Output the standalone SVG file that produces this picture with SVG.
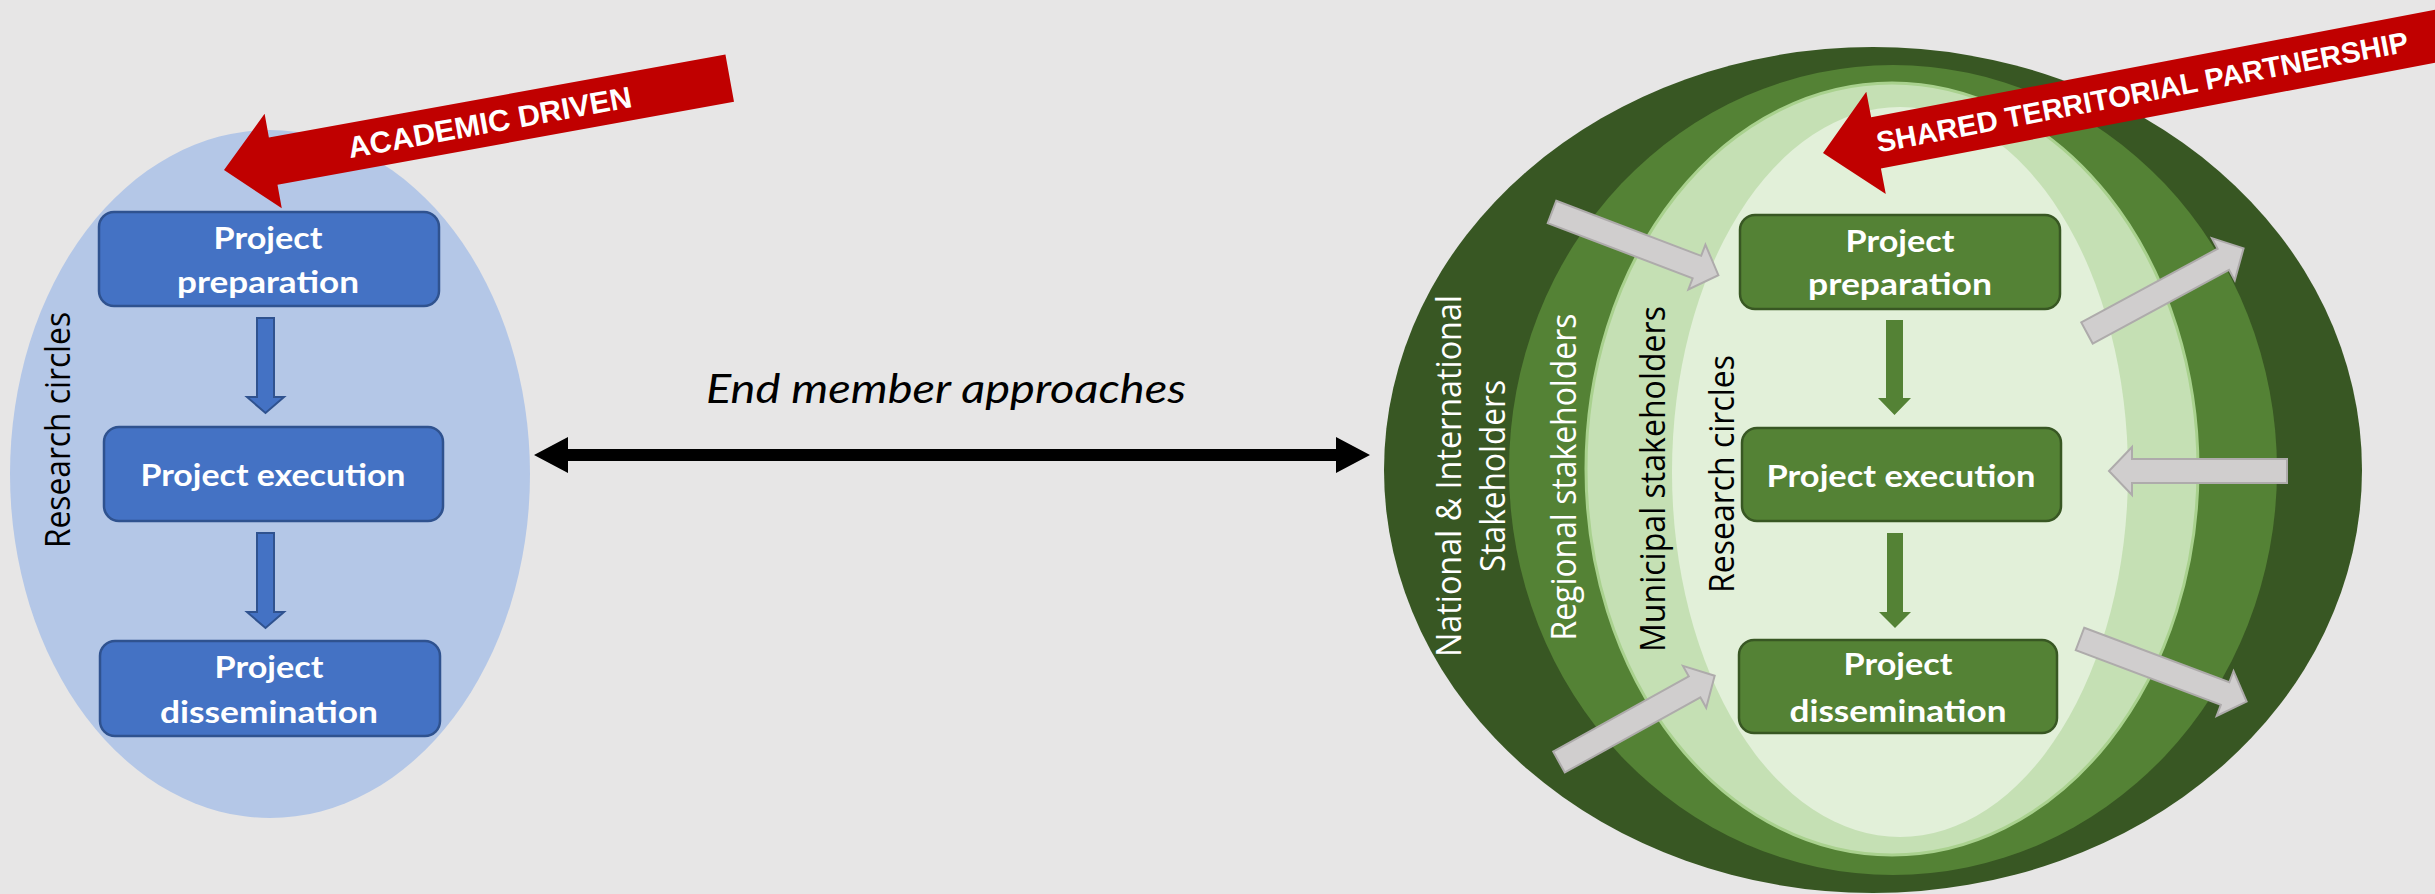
<svg xmlns="http://www.w3.org/2000/svg" width="2435" height="894" viewBox="0 0 2435 894">
<style>
.bg{fill:#E7E6E6}
.lbox{fill:#4472C4;stroke:#2F528F;stroke-width:2.5}
.larr{fill:#4472C4;stroke:#2F528F;stroke-width:2}
.gbox{fill:#548235;stroke:#385723;stroke-width:2.5}
.garr{fill:#548235}
.gray{fill:#D0CECE;stroke:#AEABAB;stroke-width:2}
.red{fill:#C00000}
.bt{font-family:Lato,"Open Sans","Liberation Sans",sans-serif;font-weight:bold;font-size:31px;fill:#FFFFFF;text-anchor:middle}
.rt{font-family:"Liberation Sans",Arial,sans-serif;font-weight:bold;fill:#FFFFFF;text-anchor:middle}
.vt{font-family:"Open Sans","DejaVu Sans",sans-serif;font-size:34px;text-anchor:middle}
.it{font-family:Lato,"Open Sans",sans-serif;font-style:italic;font-size:41px;fill:#000000;text-anchor:middle}
</style>
<defs>
<polygon id="grayArrow" points="0,-12 155,-12 155,-24 178,0 155,24 155,12 0,12"/>
</defs>
<rect class="bg" x="0" y="0" width="2435" height="894"/>

<g id="left-ellipse">
<ellipse cx="270" cy="474" rx="260" ry="344" fill="#B4C7E7"/>
<text class="vt" fill="#000000" transform="translate(70,430) rotate(-90)" textLength="236" lengthAdjust="spacingAndGlyphs">Research circles</text>
</g>

<g id="right-ellipses">
<ellipse cx="1873" cy="470" rx="489" ry="423" fill="#385723"/>
<ellipse cx="1893" cy="470" rx="384" ry="405" fill="#548235"/>
<ellipse cx="1892" cy="469" rx="306" ry="386" fill="#C5E0B4" stroke="#A9D18E" stroke-width="3"/>
<ellipse cx="1900" cy="472" rx="228" ry="365" fill="#E2F0D9"/>
<text class="vt" fill="#FFFFFF" transform="translate(1461,476) rotate(-90)" textLength="362" lengthAdjust="spacingAndGlyphs">National &amp; International</text>
<text class="vt" fill="#FFFFFF" transform="translate(1505,476) rotate(-90)" textLength="192" lengthAdjust="spacingAndGlyphs">Stakeholders</text>
<text class="vt" fill="#FFFFFF" transform="translate(1576,477) rotate(-90)" textLength="327" lengthAdjust="spacingAndGlyphs">Regional stakeholders</text>
<text class="vt" fill="#000000" transform="translate(1665,479) rotate(-90)" textLength="346" lengthAdjust="spacingAndGlyphs">Municipal stakeholders</text>
<text class="vt" fill="#000000" transform="translate(1734,474) rotate(-90)" textLength="238" lengthAdjust="spacingAndGlyphs">Research circles</text>
</g>

<g id="connectors">
<polygon class="larr" points="257,318 274,318 274,397 284,397 265.5,413 247,397 257,397"/>
<polygon class="larr" points="257,533 274,533 274,612 284,612 265.5,628 247,612 257,612"/>
<polygon class="garr" points="1886,320 1903,320 1903,398 1911,398 1894.5,415 1878,398 1886,398"/>
<polygon class="garr" points="1887,533 1903,533 1903,612 1911,612 1895,628 1879,612 1887,612"/>
<polygon fill="#000000" points="534,455 568,437 568,449 1336,449 1336,437 1370,455 1336,473 1336,461 568,461 568,473"/>
<use href="#grayArrow" class="gray" transform="translate(1552,212) rotate(20.8)"/>
<use href="#grayArrow" class="gray" transform="translate(2087,333) rotate(-28.4)"/>
<use href="#grayArrow" class="gray" transform="translate(2287,471) rotate(180)"/>
<use href="#grayArrow" class="gray" transform="translate(1559,762) rotate(-29)"/>
<use href="#grayArrow" class="gray" transform="translate(2080,639) rotate(20.6)"/>
</g>

<g id="label-end-member">
<text class="it" x="946" y="403" textLength="480" lengthAdjust="spacingAndGlyphs">End member approaches</text>
</g>

<g id="left-prep">
<rect class="lbox" x="99" y="212" width="340" height="94" rx="15"/>
<text class="bt" x="268" y="249" textLength="109" lengthAdjust="spacingAndGlyphs">Project</text>
<text class="bt" x="268" y="293" textLength="182" lengthAdjust="spacingAndGlyphs">preparation</text>
</g>
<g id="left-exec">
<rect class="lbox" x="104" y="427" width="339" height="94" rx="15"/>
<text class="bt" x="273" y="486" textLength="265" lengthAdjust="spacingAndGlyphs">Project execution</text>
</g>
<g id="left-diss">
<rect class="lbox" x="100" y="641" width="340" height="95" rx="15"/>
<text class="bt" x="269" y="678" textLength="109" lengthAdjust="spacingAndGlyphs">Project</text>
<text class="bt" x="269" y="723" textLength="218" lengthAdjust="spacingAndGlyphs">dissemination</text>
</g>

<g id="right-prep">
<rect class="gbox" x="1740" y="215" width="320" height="94" rx="15"/>
<text class="bt" x="1900" y="252" textLength="109" lengthAdjust="spacingAndGlyphs">Project</text>
<text class="bt" x="1900" y="295" textLength="184" lengthAdjust="spacingAndGlyphs">preparation</text>
</g>
<g id="right-exec">
<rect class="gbox" x="1742" y="428" width="319" height="93" rx="15"/>
<text class="bt" x="1901" y="487" textLength="269" lengthAdjust="spacingAndGlyphs">Project execution</text>
</g>
<g id="right-diss">
<rect class="gbox" x="1739" y="640" width="318" height="93" rx="15"/>
<text class="bt" x="1898" y="675" textLength="109" lengthAdjust="spacingAndGlyphs">Project</text>
<text class="bt" x="1898" y="722" textLength="217" lengthAdjust="spacingAndGlyphs">dissemination</text>
</g>

<g id="academic-driven" transform="translate(224,170) rotate(-10.3)">
<polygon class="red" points="0,0 50,-48 50,-24 514,-24 514,24 50,24 50,48"/>
<text class="rt" x="270" y="11" font-size="30" textLength="288" lengthAdjust="spacingAndGlyphs">ACADEMIC DRIVEN</text>
</g>

<g id="shared-territorial" transform="translate(1823,153) rotate(-10.8)">
<polygon class="red" points="0,0 54,-52 54,-26 630,-26 630,26 54,26 54,52"/>
<text class="rt" x="325" y="10" font-size="29" textLength="541" lengthAdjust="spacingAndGlyphs">SHARED TERRITORIAL PARTNERSHIP</text>
</g>
</svg>
